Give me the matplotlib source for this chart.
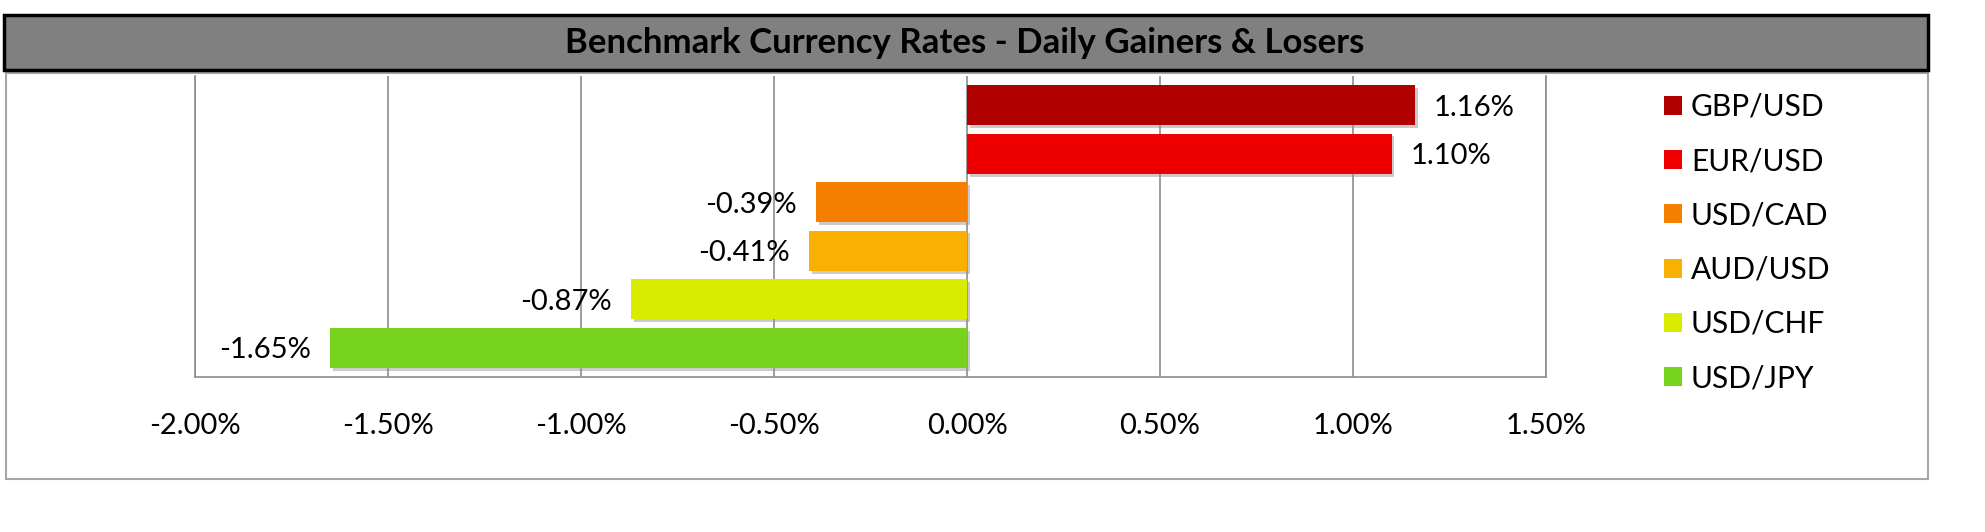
import matplotlib.pyplot as plt
import matplotlib.patheffects as pe
from matplotlib.patches import Rectangle, Patch

pairs = ['GBP/USD', 'EUR/USD', 'USD/CAD', 'AUD/USD', 'USD/CHF', 'USD/JPY']
changes = [1.16, 1.10, -0.39, -0.41, -0.87, -1.65]
colors = ['#B00000', '#EE0000', '#F77F00', '#F9B000', '#D9EC00', '#78D31E']
xticks = [-2.0, -1.5, -1.0, -0.5, 0.0, 0.5, 1.0, 1.5]

plt.rcParams['font.family'] = ['Lato', 'DejaVu Sans']

W, H = 1985, 532
fig = plt.figure(figsize=(W / 100, H / 100), dpi=100)

# chart area border
fig.patches.append(Rectangle((6 / W, 1 - 479 / H), 1922 / W, 406 / H,
                             transform=fig.transFigure, facecolor='none',
                             edgecolor='#A6A6A6', lw=1.5, zorder=-1))
# title bar
fig.patches.append(Rectangle((4 / W, 1 - 70 / H), 1924 / W, 55 / H,
                             transform=fig.transFigure, facecolor='#808080',
                             edgecolor='black', lw=2.5, zorder=1))
fig.text(0.486, 1 - 43 / H, 'Benchmark Currency Rates - Daily Gainers & Losers',
         ha='center', va='center', fontsize=25, fontweight='bold', color='black')

ax = fig.add_axes([195 / W, 1 - 377 / H, 1351 / W, 301 / H], zorder=2)
ypos = list(range(len(pairs)))
bars = ax.barh(ypos, changes, height=0.83, color=colors, zorder=3)
for b in bars:
    b.set_path_effects([pe.SimplePatchShadow(offset=(2, -2), shadow_rgbFace='#999999', alpha=0.5),
                        pe.Normal()])

for y, v in zip(ypos, changes):
    if v >= 0:
        ax.text(v + 0.05, y, f'{v:.2f}%', ha='left', va='center_baseline', fontsize=21)
    else:
        ax.text(v - 0.05, y, f'{v:.2f}%', ha='right', va='center_baseline', fontsize=21)

ax.set_xlim(-2.0, 1.5)
ax.set_ylim(5.6, -0.6)
ax.set_xticks(xticks)
ax.set_xticklabels([f'{t:.2f}%' for t in xticks], fontsize=21)
ax.set_yticks([])
ax.tick_params(axis='x', length=0, pad=26)
ax.grid(axis='x', color='#8C8C8C', lw=1.2, zorder=0)
for s in ax.spines.values():
    s.set_color('#8C8C8C')
    s.set_linewidth(1.2)
ax.spines['top'].set_visible(False)

handles = [Patch(facecolor=c, label=p) for c, p in zip(colors, pairs)]
fig.legend(handles=handles, loc='upper left', bbox_to_anchor=(1637 / W, 1 - 66 / H),
           frameon=False, fontsize=21.5, labelspacing=0.88, handlelength=0.6,
           handleheight=0.6, handletextpad=0.3)

fig.savefig('out.png', dpi=100)
